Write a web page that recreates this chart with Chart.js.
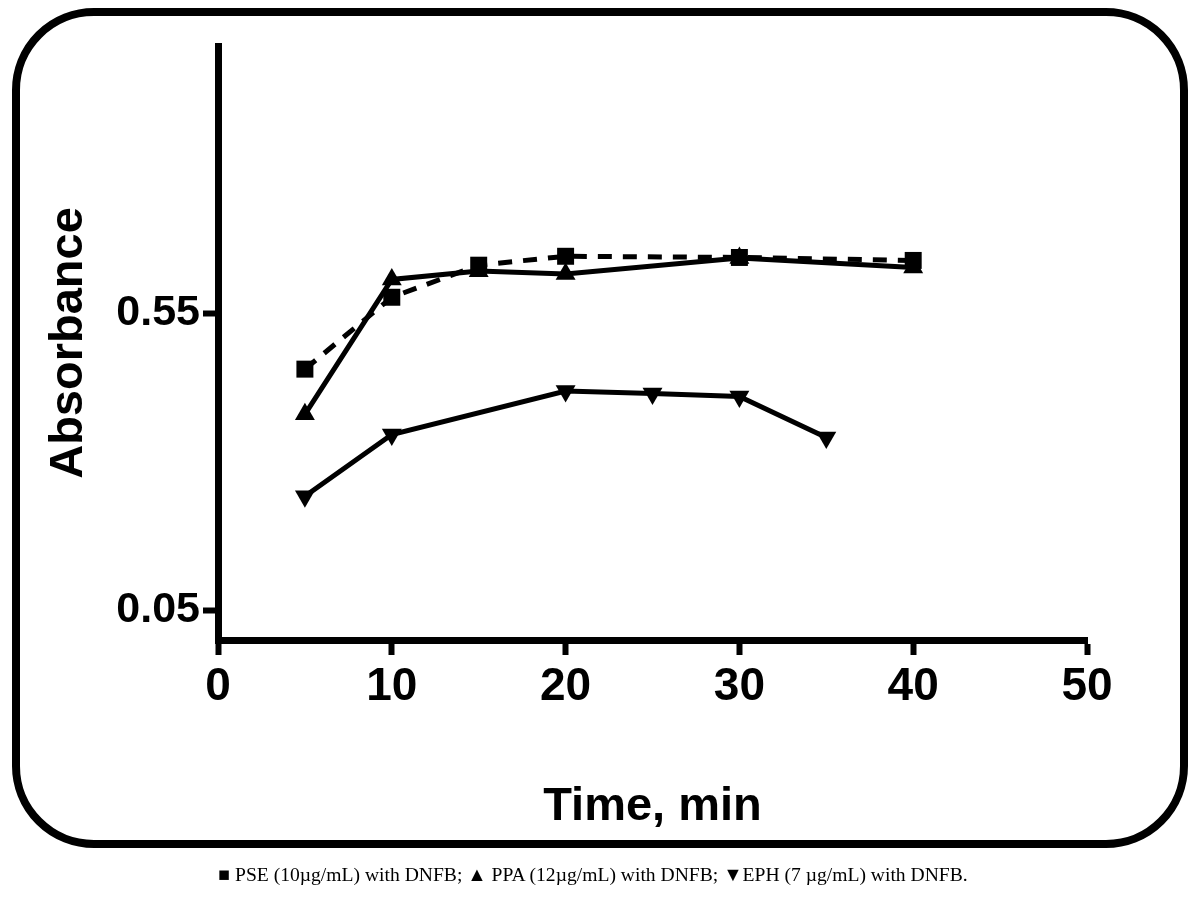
<!DOCTYPE html>
<html>
<head>
<meta charset="utf-8">
<script src="https://cdn.jsdelivr.net/npm/chart.js@4.4.1/dist/chart.umd.min.js"></script>
<style>
  body { margin: 0; background: #fff; }
  #wrap { position: relative; width: 1200px; height: 900px; }
  #frame {
    position: absolute; left: 12px; top: 8px; width: 1176px; height: 840px;
    box-sizing: border-box; border: 8px solid #000; border-radius: 82px;
  }
  #chart { position: absolute; left: 0; top: 0; }
  #caption {
    position: absolute; left: 0; top: 864px; width: 1186px; text-align: center;
    font-family: "Liberation Serif", "Times New Roman", serif; font-size: 19.6px; color: #000;
  }
</style>
</head>
<body>
<div id="wrap">
  <div id="frame"></div>
  <canvas id="chart" width="1200" height="900"></canvas>
  <div id="caption">&#9632; PSE (10µg/mL) with DNFB; &#9650; PPA (12µg/mL) with DNFB; &#9660;EPH (7 µg/mL) with DNFB.</div>
</div>
<script>
// data
var pseTimes = [5, 10, 15, 20, 30, 40];
var pseValues = [0.456, 0.577, 0.631, 0.646, 0.644, 0.639];

var ppaTimes = [5, 10, 15, 20, 30, 40];
var ppaValues = [0.380, 0.607, 0.621, 0.616, 0.643, 0.627];

var ephTimes = [5, 10, 20, 25, 30, 35];
var ephValues = [0.242, 0.346, 0.419, 0.415, 0.410, 0.341];

var yTickValues = [0.05, 0.55];
var xTickValues = [0, 10, 20, 30, 40, 50];

function toPoints(xs, ys) {
    var out = [];
    for (var i = 0; i < xs.length; i++) {
        out.push({ x: xs[i], y: ys[i] });
    }
    return out;
}

var ctx = document.getElementById('chart').getContext('2d');
var chart = new Chart(ctx, {
    type: 'line',
    data: {
        datasets: [{
            label: 'PSE (10µg/mL) with DNFB',
            data: toPoints(pseTimes, pseValues),
            borderColor: '#000',
            backgroundColor: '#000',
            borderWidth: 5,
            borderDash: [14, 11],
            pointStyle: 'rect',
            pointRadius: 12,
            pointBorderWidth: 0
        }, {
            label: 'PPA (12µg/mL) with DNFB',
            data: toPoints(ppaTimes, ppaValues),
            borderColor: '#000',
            backgroundColor: '#000',
            borderWidth: 5,
            pointStyle: 'triangle',
            pointRadius: 11.5,
            pointBorderWidth: 0
        }, {
            label: 'EPH (7 µg/mL) with DNFB',
            data: toPoints(ephTimes, ephValues),
            borderColor: '#000',
            backgroundColor: '#000',
            borderWidth: 5,
            pointStyle: 'triangle',
            pointRotation: 180,
            pointRadius: 11.5,
            pointBorderWidth: 0
        }]
    },
    options: {
        responsive: false,
        animation: false,
        layout: { padding: { left: 0, top: 46, right: 113, bottom: 0 } },
        plugins: {
            legend: { display: false },
            tooltip: { enabled: false }
        },
        elements: { line: { tension: 0 } },
        scales: {
            x: {
                type: 'linear',
                min: 0,
                max: 50,
                afterFit: function (scale) { scale.height = 260; },
                afterBuildTicks: function (scale) {
                    scale.ticks = xTickValues.map(function (v) { return { value: v }; });
                },
                border: { display: true, color: '#000', width: 7 },
                grid: {
                    drawOnChartArea: false,
                    drawTicks: true,
                    tickLength: 15,
                    tickWidth: 6,
                    tickColor: '#000'
                },
                ticks: {
                    color: '#000',
                    padding: 5,
                    maxRotation: 0,
                    font: { family: '"Liberation Sans", Arial, sans-serif', size: 46, weight: 'bold' }
                },
                title: {
                    display: true,
                    text: 'Time, min',
                    color: '#000',
                    padding: { top: 0, bottom: 65 },
                    font: { family: '"Liberation Sans", Arial, sans-serif', size: 47, weight: 'bold' }
                }
            },
            y: {
                type: 'linear',
                min: 0,
                max: 1,
                afterFit: function (scale) { scale.width = 218; },
                afterBuildTicks: function (scale) {
                    scale.ticks = yTickValues.map(function (v) { return { value: v }; });
                },
                border: { display: true, color: '#000', width: 7 },
                grid: {
                    drawOnChartArea: false,
                    drawTicks: true,
                    tickLength: 15,
                    tickWidth: 6,
                    tickColor: '#000'
                },
                ticks: {
                    color: '#000',
                    padding: 3,
                    callback: function (v) { return v.toFixed(2); },
                    font: { family: '"Liberation Sans", Arial, sans-serif', size: 43, weight: 'bold' }
                },
                title: {
                    display: true,
                    text: 'Absorbance',
                    color: '#000',
                    padding: { top: 41, bottom: 0 },
                    font: { family: '"Liberation Sans", Arial, sans-serif', size: 47, weight: 'bold' }
                }
            }
        }
    }
});
</script>
</body>
</html>
